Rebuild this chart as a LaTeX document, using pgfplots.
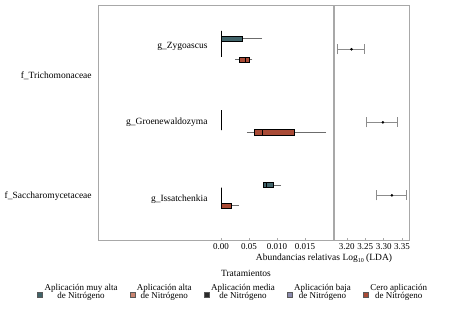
\documentclass[border=0pt]{standalone}
\usepackage{pgfplots}
\pgfplotsset{compat=1.18}
\usepgfplotslibrary{statistics}
\usepackage{fontspec}
\setmainfont{Liberation Serif}
\definecolor{cMuyAlta}{HTML}{41646A}
\definecolor{cAlta}{HTML}{C98470}
\definecolor{cMedia}{HTML}{2A2A2A}
\definecolor{cBaja}{HTML}{8C8CAE}
\definecolor{cCero}{HTML}{A94B36}
\definecolor{frame}{HTML}{A8A8A8}
\begin{document}
\begin{tikzpicture}
\useasboundingbox (0,0) rectangle (453pt,314pt);
% ---------------- left panel: boxplots ----------------
\begin{axis}[
  at={(98pt,74pt)}, anchor=south west,
  width=235pt, height=235pt, scale only axis,
  xmin=-0.022, xmax=0.020, ymin=0, ymax=235,
  ytick=\empty,
  scaled x ticks=false,
  xtick={0,0.005,0.010,0.015},
  xticklabels={0.00,0.05,0.010,0.015},
  xtick pos=bottom,
  tick style={frame, line width=0.5pt},
  major tick length=2pt,
  tick label style={font=\fontsize{9}{10}\selectfont},
  axis line style={draw=frame, line width=0.9pt},
  clip=false,
  boxplot/draw direction=x,
  boxplot/whisker extend=0,
  boxplot/every whisker/.style={draw=gray!85!black, line width=0.7pt},
  boxplot/every box/.style={draw=black, line width=0.5pt},
  boxplot/every median/.style={draw=black, line width=0.7pt},
  legend columns=5,
  legend style={at={(axis description cs:0.575,-0.222)}, anchor=center,
    draw=none, fill=none, font=\fontsize{9}{8.5}\selectfont,
    cells={align=center},
    /tikz/every even column/.append style={column sep=10pt}},
]
% legend images
\addlegendimage{area legend, legend image code/.code={\draw[draw=gray!70!black, fill=cMuyAlta] (0pt,-5pt) rectangle (5pt,0pt);}}
\addlegendentry{Aplicación muy alta\\de Nitrógeno}
\addlegendimage{area legend, legend image code/.code={\draw[draw=gray!70!black, fill=cAlta] (0pt,-5pt) rectangle (5pt,0pt);}}
\addlegendentry{Aplicación alta\\de Nitrógeno}
\addlegendimage{area legend, legend image code/.code={\draw[draw=gray!70!black, fill=cMedia] (0pt,-5pt) rectangle (5pt,0pt);}}
\addlegendentry{Aplicación media\\de Nitrógeno}
\addlegendimage{area legend, legend image code/.code={\draw[draw=gray!70!black, fill=cBaja] (0pt,-5pt) rectangle (5pt,0pt);}}
\addlegendentry{Aplicación baja\\de Nitrógeno}
\addlegendimage{area legend, legend image code/.code={\draw[draw=gray!70!black, fill=cCero] (0pt,-5pt) rectangle (5pt,0pt);}}
\addlegendentry{Cero aplicación\\de Nitrógeno}
% g_Zygoascus
\addplot[forget plot, fill=white, boxplot prepared={draw position=196, lower whisker=0, lower quartile=0, median=0, upper quartile=0, upper whisker=0, box extend=26}] coordinates {};
\addplot[forget plot, fill=cMuyAlta, boxplot prepared={draw position=201.3, lower whisker=0, lower quartile=0, median=0, upper quartile=0.00375, upper whisker=0.00732, box extend=5}] coordinates {};
\addplot[forget plot, fill=cCero, boxplot prepared={draw position=180.3, lower whisker=0.0025, lower quartile=0.00327, median=0.00429, upper quartile=0.0050, upper whisker=0.00559, box extend=5}] coordinates {};
% g_Groenewaldozyma
\addplot[forget plot, fill=white, boxplot prepared={draw position=120, lower whisker=0, lower quartile=0, median=0, upper quartile=0, upper whisker=0, box extend=20}] coordinates {};
\addplot[forget plot, fill=cCero, boxplot prepared={draw position=107.3, lower whisker=0.00459, lower quartile=0.00595, median=0.00738, upper quartile=0.01309, upper whisker=0.01875, box extend=6}] coordinates {};
% g_Issatchenkia
\addplot[forget plot, fill=white, boxplot prepared={draw position=42, lower whisker=0, lower quartile=0, median=0, upper quartile=0, upper whisker=0, box extend=20.6}] coordinates {};
\addplot[forget plot, fill=cMuyAlta, boxplot prepared={draw position=55, lower whisker=0.00745, lower quartile=0.00755, median=0.00804, upper quartile=0.00934, upper whisker=0.01071, box extend=5}] coordinates {};
\addplot[forget plot, fill=cCero, boxplot prepared={draw position=34.3, lower whisker=0, lower quartile=0, median=0, upper quartile=0.00173, upper whisker=0.00321, box extend=5}] coordinates {};
% labels
\node[anchor=east, font=\fontsize{9.5}{11}\selectfont] at (axis cs:-0.0018,194) {g\_Zygoascus};
\node[anchor=east, font=\fontsize{9.5}{11}\selectfont] at (axis cs:-0.0018,118) {g\_Groenewaldozyma};
\node[anchor=east, font=\fontsize{9.5}{11}\selectfont] at (axis cs:-0.0018,41) {g\_Issatchenkia};
\node[anchor=east, font=\fontsize{9.5}{11}\selectfont] at (axis cs:-0.0225,164) {f\_Trichomonaceae};
\node[anchor=east, font=\fontsize{9.5}{11}\selectfont] at (axis cs:-0.0225,44) {f\_Saccharomycetaceae};
\end{axis}
% ---------------- right panel: LDA ----------------
\begin{axis}[
  at={(334pt,74pt)}, anchor=south west,
  width=75pt, height=235pt, scale only axis,
  xmin=3.165, xmax=3.369, ymin=0, ymax=235,
  ytick=\empty,
  scaled x ticks=false,
  xtick={3.20,3.25,3.30,3.35},
  xticklabels={3.20,3.25,3.30,3.35},
  xtick pos=bottom,
  tick style={frame, line width=0.5pt},
  major tick length=2pt,
  tick label style={font=\fontsize{9}{10}\selectfont},
  axis line style={draw=frame, line width=0.9pt},
  clip=false,
]
\addplot[only marks, mark=*, mark size=1.1pt, black,
  error bars/.cd, x dir=both, x explicit,
  error bar style={draw=gray!90, line width=0.7pt},
  error mark options={rotate=90, draw=gray!90, mark size=5pt, line width=0.7pt}]
  table[x=x, y=y, x error plus=ep, x error minus=em] {
x      y      ep      em
3.2126 190.7  0.0354  0.0396
3.2980 117.7  0.0400  0.0440
3.3225 44.7   0.0385  0.0435
};
\end{axis}
\node[font=\fontsize{9.5}{11}\selectfont] at (324pt,56pt) {Abundancias relativas Log\raisebox{-0.5ex}{\fontsize{6}{6}\selectfont 10} (LDA)};
\node[font=\fontsize{9.5}{11}\selectfont] at (246pt,41pt) {Tratamientos};
\end{tikzpicture}
\end{document}
